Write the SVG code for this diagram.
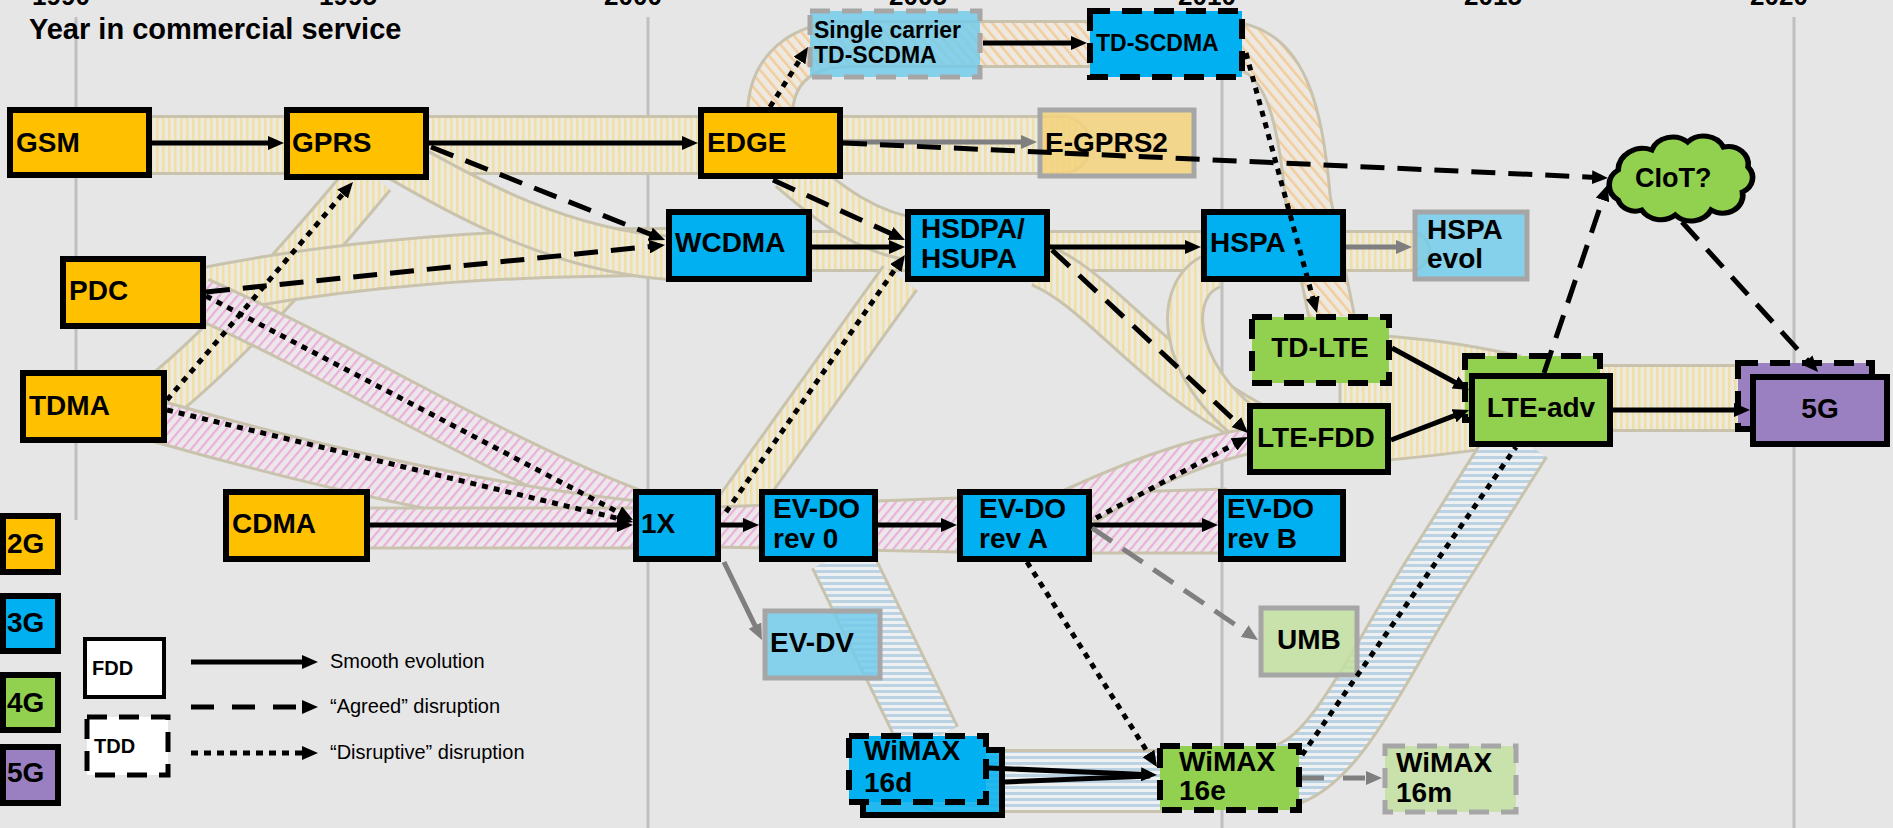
<svg xmlns="http://www.w3.org/2000/svg" width="1893" height="828" viewBox="0 0 1893 828">
<defs>
<style>
.t{font-family:"Liberation Sans",Arial,sans-serif;font-weight:bold;font-size:28px;fill:#000}
.ts{font-size:23px}
.yr{font-size:26px}
.lg{font-family:"Liberation Sans",Arial,sans-serif;font-size:20px;fill:#000}
.box{stroke:#000;stroke-width:6}
.dbox{stroke:#000;stroke-width:6;stroke-dasharray:20 12}
.gbox{stroke:#A6A6A6;stroke-width:5;fill-opacity:0.85}
.gdbox{stroke:#A6A6A6;stroke-width:5;stroke-dasharray:20 12;fill-opacity:0.85}
.o2{fill:#FFC000}.b3{fill:#00B0F0}.g4{fill:#92D050}.p5{fill:#9A7FC1}
.lb{fill:#73CBEA}.lo{fill:#F3D27B}.lgn{fill:#C3DF9F}
.bo{fill:none;stroke:#C9C3AD}
.grid{stroke:#BFBFBF;stroke-width:3}
.c{fill:none;stroke:#000;stroke-width:5}
.dash{stroke-dasharray:24 13}
.dot{stroke-dasharray:6 6}
.gr{stroke:#7F7F7F}
</style>
<pattern id="pY" width="6" height="6" patternUnits="userSpaceOnUse"><rect width="6" height="6" fill="#ECE9DF"/><rect width="2.5" height="6" fill="#F1DFA8"/></pattern>
<pattern id="pP" width="7" height="7" patternUnits="userSpaceOnUse" patternTransform="rotate(40)"><rect width="7" height="7" fill="#ECE8EA"/><rect width="2.2" height="7" fill="#EAB0DB"/></pattern>
<pattern id="pB" width="6" height="6" patternUnits="userSpaceOnUse"><rect width="6" height="6" fill="#EEF0F1"/><rect width="6" height="3" fill="#BAD2E2"/></pattern>
<pattern id="pO" width="8" height="8" patternUnits="userSpaceOnUse" patternTransform="rotate(-40)"><rect width="8" height="8" fill="#EEE9E0"/><rect width="2.5" height="8" fill="#F3CC9C"/></pattern>
<marker id="ah" viewBox="0 0 16 14" refX="4" refY="7" markerWidth="16" markerHeight="14" markerUnits="userSpaceOnUse" orient="auto"><path d="M0,0L16,7L0,14z" fill="#000"/></marker>
<marker id="ahg" viewBox="0 0 16 14" refX="4" refY="7" markerWidth="16" markerHeight="14" markerUnits="userSpaceOnUse" orient="auto"><path d="M0,0L16,7L0,14z" fill="#7F7F7F"/></marker>
<path id="bY1" d="M140 145 L1062 145"/>
<path id="bY2" d="M160 398 C220 350 300 262 372 175"/>
<path id="bY3" d="M200 292 C350 262 500 252 670 252"/>
<path id="bY4" d="M400 160 C470 200 560 250 670 258"/>
<path id="bY5" d="M700 251 L1410 251"/>
<path id="bY6" d="M790 170 C830 205 870 235 920 240"/>
<path id="bY7" d="M733 512 L900 278"/>
<path id="bY8" d="M1040 265 C1100 290 1150 370 1255 425"/>
<path id="bY9" d="M1215 270 C1170 285 1170 370 1255 430"/>
<path id="bY12" d="M1600 398 L1760 398"/>
<path id="bO1" d="M770 112 C772 70 800 44 850 44 L1225 44 C1285 46 1300 110 1308 200 L1332 318"/>
<path id="bP1" d="M360 528 L640 528"/>
<path id="bP4" d="M200 298 C350 365 500 460 640 512"/>
<path id="bP5" d="M160 422 C300 462 480 505 640 522"/>
<path id="bB1" d="M840 555 L930 740"/>
<path id="bB2" d="M940 781 L1165 781"/>
<path id="bB3" d="M1285 775 C1340 760 1385 650 1444 560 L1520 440"/>
</defs>
<rect width="1893" height="828" fill="#E6E6E6"/>
<g id="axis">
<line class="grid" x1="76" y1="17" x2="76" y2="520"/>
<line class="grid" x1="648" y1="17" x2="648" y2="828"/>
<line class="grid" x1="1222" y1="17" x2="1222" y2="828"/>
<line class="grid" x1="1794" y1="17" x2="1794" y2="828"/>
<text class="t yr" x="61" y="5" text-anchor="middle">1990</text>
<text class="t yr" x="348" y="5" text-anchor="middle">1995</text>
<text class="t yr" x="633" y="5" text-anchor="middle">2000</text>
<text class="t yr" x="918" y="5" text-anchor="middle">2005</text>
<text class="t yr" x="1207" y="5" text-anchor="middle">2010</text>
<text class="t yr" x="1493" y="5" text-anchor="middle">2015</text>
<text class="t yr" x="1779" y="5" text-anchor="middle">2020</text>
<text class="t" x="29" y="39" style="font-size:29px">Year in commercial service</text>
</g>
<g id="bands">
<use href="#bY1" class="bo" stroke-width="60" stroke-linecap="round"/><use href="#bY1" fill="none" stroke="url(#pY)" stroke-width="54" stroke-linecap="round"/>
<use href="#bY2" class="bo" stroke-width="50"/><use href="#bY2" fill="none" stroke="url(#pY)" stroke-width="44"/>
<use href="#bY3" class="bo" stroke-width="50"/><use href="#bY3" fill="none" stroke="url(#pY)" stroke-width="44"/>
<use href="#bY4" class="bo" stroke-width="46"/><use href="#bY4" fill="none" stroke="url(#pY)" stroke-width="40"/>
<use href="#bY5" class="bo" stroke-width="42" stroke-linecap="round"/><use href="#bY5" fill="none" stroke="url(#pY)" stroke-width="36" stroke-linecap="round"/>
<use href="#bY6" class="bo" stroke-width="46"/><use href="#bY6" fill="none" stroke="url(#pY)" stroke-width="40"/>
<use href="#bY7" class="bo" stroke-width="44"/><use href="#bY7" fill="none" stroke="url(#pY)" stroke-width="38"/>
<use href="#bY8" class="bo" stroke-width="46"/><use href="#bY8" fill="none" stroke="url(#pY)" stroke-width="40"/>
<use href="#bY9" class="bo" stroke-width="38"/><use href="#bY9" fill="none" stroke="url(#pY)" stroke-width="32"/>
<path d="M1340 333 C1430 338 1470 345 1520 356 L1520 445 C1470 450 1430 458 1340 464 Z" fill="url(#pY)" stroke="#C9C3AD" stroke-width="3"/>
<use href="#bY12" class="bo" stroke-width="68"/><use href="#bY12" fill="none" stroke="url(#pY)" stroke-width="62"/>
<use href="#bO1" class="bo" stroke-width="48"/><use href="#bO1" fill="none" stroke="url(#pO)" stroke-width="42"/>
<use href="#bP4" class="bo" stroke-width="44"/><use href="#bP4" fill="none" stroke="url(#pP)" stroke-width="38"/>
<use href="#bP5" class="bo" stroke-width="44"/><use href="#bP5" fill="none" stroke="url(#pP)" stroke-width="38"/>
<use href="#bP1" class="bo" stroke-width="43"/><use href="#bP1" fill="none" stroke="url(#pP)" stroke-width="37"/>
<path d="M715 507 L958 498 L1092 493 L1225 489 L1225 553 L1092 553 L958 552 L715 547 Z" fill="url(#pP)" stroke="#C9C3AD" stroke-width="3"/>
<path d="M1060 492 C1120 465 1180 440 1255 427 L1255 452 C1180 470 1130 500 1096 522 Z" fill="url(#pP)" stroke="#C9C3AD" stroke-width="3"/>
<use href="#bB1" class="bo" stroke-width="64"/><use href="#bB1" fill="none" stroke="url(#pB)" stroke-width="58"/>
<use href="#bB2" class="bo" stroke-width="64" stroke-linecap="round"/><use href="#bB2" fill="none" stroke="url(#pB)" stroke-width="58" stroke-linecap="round"/>
<use href="#bB3" class="bo" stroke-width="66"/><use href="#bB3" fill="none" stroke="url(#pB)" stroke-width="60"/>
</g>
<g id="n-gsm"><rect class="box o2" x="10" y="110" width="139" height="65"/><text class="t" x="16" y="152">GSM</text></g>
<g id="n-gprs"><rect class="box o2" x="287" y="110" width="139" height="67"/><text class="t" x="292" y="152">GPRS</text></g>
<g id="n-edge"><rect class="box o2" x="701" y="110" width="139" height="66"/><text class="t" x="707" y="152">EDGE</text></g>
<g id="n-egprs2"><rect class="gbox lo" x="1040" y="110" width="154" height="66"/><text class="t" x="1045" y="152">E-GPRS2</text></g>
<g id="n-sctdscdma"><rect class="gdbox lb" x="810" y="11" width="170" height="66"/><text class="t ts" x="814" y="38">Single carrier</text><text class="t ts" x="814" y="63">TD-SCDMA</text></g>
<g id="n-tdscdma"><rect class="dbox b3" x="1090" y="11" width="152" height="66"/><text class="t ts" x="1096" y="51">TD-SCDMA</text></g>
<g id="n-pdc"><rect class="box o2" x="63" y="259" width="140" height="67"/><text class="t" x="69" y="300">PDC</text></g>
<g id="n-tdma"><rect class="box o2" x="23" y="373" width="141" height="67"/><text class="t" x="29" y="415">TDMA</text></g>
<g id="n-cdma"><rect class="box o2" x="226" y="492" width="141" height="67"/><text class="t" x="232" y="533">CDMA</text></g>
<g id="n-wcdma"><rect class="box b3" x="669" y="212" width="140" height="67"/><text class="t" x="675" y="252">WCDMA</text></g>
<g id="n-hsdpa"><rect class="box b3" x="908" y="212" width="139" height="67"/><text class="t" x="921" y="238">HSDPA/</text><text class="t" x="921" y="268">HSUPA</text></g>
<g id="n-hspa"><rect class="box b3" x="1204" y="212" width="139" height="67"/><text class="t" x="1210" y="252">HSPA</text></g>
<g id="n-hspaevol"><rect class="gbox lb" x="1415" y="212" width="112" height="67"/><text class="t" x="1427" y="239">HSPA</text><text class="t" x="1427" y="268">evol</text></g>
<g id="n-1x"><rect class="box b3" x="636" y="492" width="82" height="67"/><text class="t" x="641" y="533">1X</text></g>
<g id="n-evdo0"><rect class="box b3" x="762" y="492" width="113" height="67"/><text class="t" x="773" y="518">EV-DO</text><text class="t" x="773" y="548">rev 0</text></g>
<g id="n-evdoa"><rect class="box b3" x="960" y="492" width="129" height="67"/><text class="t" x="979" y="518">EV-DO</text><text class="t" x="979" y="548">rev A</text></g>
<g id="n-evdob"><rect class="box b3" x="1221" y="492" width="122" height="67"/><text class="t" x="1227" y="518">EV-DO</text><text class="t" x="1227" y="548">rev B</text></g>
<g id="n-evdv"><rect class="gbox lb" x="765" y="611" width="115" height="67"/><text class="t" x="770" y="652">EV-DV</text></g>
<g id="n-umb"><rect class="gbox lgn" x="1261" y="608" width="96" height="67"/><text class="t" x="1277" y="649">UMB</text></g>
<g id="n-wimax16d"><rect class="box b3" x="863" y="750" width="139" height="65" fill-opacity="0.85"/><rect class="dbox b3" x="849" y="736" width="137" height="66"/><text class="t" x="864" y="760">WiMAX</text><text class="t" x="864" y="792">16d</text></g>
<g id="n-wimax16e"><rect class="dbox g4" x="1160" y="746" width="139" height="64"/><text class="t" x="1179" y="771">WiMAX</text><text class="t" x="1179" y="800">16e</text></g>
<g id="n-wimax16m"><rect class="gdbox lgn" x="1385" y="746" width="131" height="66"/><text class="t" x="1396" y="772">WiMAX</text><text class="t" x="1396" y="802">16m</text></g>
<g id="n-tdlte"><rect class="dbox g4" x="1252" y="317" width="137" height="66"/><text class="t" x="1320" y="357" text-anchor="middle">TD-LTE</text></g>
<g id="n-ltefdd"><rect class="box g4" x="1250" y="406" width="138" height="66"/><text class="t" x="1257" y="447">LTE-FDD</text></g>
<g id="n-lteadv"><rect class="dbox g4" x="1465" y="356" width="135" height="64"/><rect class="box g4" x="1472" y="376" width="138" height="68"/><text class="t" x="1541" y="417" text-anchor="middle">LTE-adv</text></g>
<g id="n-5g"><rect class="dbox p5" x="1738" y="363" width="134" height="66"/><rect class="box p5" x="1753" y="377" width="134" height="67"/><text class="t" x="1820" y="418" text-anchor="middle">5G</text></g>
<g id="n-ciot"><path transform="translate(1682 178) scale(1.12 1) translate(-1682 -173)" d="M1625 195 a18 18 0 0 1 0 -30 a22 22 0 0 1 30 -20 a20 20 0 0 1 32 -8 a20 20 0 0 1 32 5 a18 18 0 0 1 22 20 a16 16 0 0 1 -5 25 a18 18 0 0 1 -28 18 a20 20 0 0 1 -32 5 a20 20 0 0 1 -30 -5 a16 16 0 0 1 -21 -10 Z" fill="#92D050" stroke="#000" stroke-width="5"/><text class="t" x="1635" y="187" style="font-size:27px">CIoT?</text></g>
<g id="connectors">
<line class="c" x1="152" y1="143" x2="272" y2="143" marker-end="url(#ah)"/>
<line class="c" x1="429" y1="143" x2="686" y2="143" marker-end="url(#ah)"/>
<line class="c" x1="983" y1="43" x2="1075" y2="43" marker-end="url(#ah)"/>
<line class="c" x1="812" y1="247" x2="893" y2="247" marker-end="url(#ah)"/>
<line class="c" x1="1050" y1="247" x2="1189" y2="247" marker-end="url(#ah)"/>
<line class="c" x1="1392" y1="348" x2="1458.5" y2="384.3" marker-end="url(#ah)"/>
<line class="c" x1="1391" y1="440" x2="1457.8" y2="414.3" marker-end="url(#ah)"/>
<line class="c" x1="1613" y1="410" x2="1738" y2="410" marker-end="url(#ah)"/>
<line class="c" x1="370" y1="525" x2="621" y2="525" marker-end="url(#ah)"/>
<line class="c" x1="721" y1="525" x2="747" y2="525" marker-end="url(#ah)"/>
<line class="c" x1="878" y1="525" x2="945" y2="525" marker-end="url(#ah)"/>
<line class="c" x1="1092" y1="525" x2="1206" y2="525" marker-end="url(#ah)"/>
<line class="c" x1="989" y1="768" x2="1145" y2="774.5" marker-end="url(#ah)"/>
<line class="c" x1="1005" y1="782" x2="1150" y2="776"/>
<line class="c gr" x1="843" y1="142" x2="1025" y2="142" marker-end="url(#ahg)"/>
<line class="c gr" x1="1346" y1="247" x2="1400" y2="247" marker-end="url(#ahg)"/>
<line class="c gr" x1="724" y1="562" x2="756.7" y2="629.2" marker-end="url(#ahg)"/>
<line class="c gr dash" x1="1092" y1="528" x2="1248" y2="633.3" marker-end="url(#ahg)"/>
<line class="c gr" x1="1302" y1="778" x2="1370" y2="778" stroke-dasharray="22 19" marker-end="url(#ahg)"/>
<line class="c dash" x1="431" y1="147" x2="653.9" y2="235.6" marker-end="url(#ah)"/>
<line class="c dash" x1="206" y1="292" x2="653.1" y2="246.2" marker-end="url(#ah)"/>
<line class="c dash" x1="773" y1="180" x2="894.1" y2="235" marker-end="url(#ah)"/>
<line class="c dash" x1="1052" y1="250" x2="1239.2" y2="424.8" marker-end="url(#ah)"/>
<line class="c dash" x1="843" y1="143" x2="1596" y2="177.4" marker-end="url(#ah)"/>
<line class="c dash" x1="1544" y1="373" x2="1603.8" y2="196.2" marker-end="url(#ah)"/>
<line class="c dash" x1="1682" y1="222" x2="1810" y2="363.1" marker-end="url(#ah)"/>
<line class="c dot" x1="167" y1="400" x2="345.2" y2="191.1" marker-end="url(#ah)"/>
<line class="c dot" x1="167" y1="410" x2="621.3" y2="519.2" marker-end="url(#ah)"/>
<line class="c dot" x1="206" y1="296" x2="622.4" y2="514.4" marker-end="url(#ah)"/>
<line class="c dot" x1="726" y1="512" x2="898.1" y2="264.9" marker-end="url(#ah)"/>
<line class="c dot" x1="770" y1="107" x2="801.6" y2="57.1" marker-end="url(#ah)"/>
<line class="c dot" x1="1246" y1="53" x2="1313.8" y2="301.4" marker-end="url(#ah)"/>
<line class="c dot" x1="1096" y1="518" x2="1237.4" y2="442.6" marker-end="url(#ah)"/>
<line class="c dot" x1="1027" y1="562" x2="1150.6" y2="756.9" marker-end="url(#ah)"/>
<line class="c dot" x1="1302" y1="755" x2="1516" y2="447"/>
</g>
<g id="legend">
<rect class="box o2" x="3" y="516" width="55" height="56" stroke-width="5"/><text class="t" x="7" y="553">2G</text>
<rect class="box b3" x="3" y="596" width="55" height="55" stroke-width="5"/><text class="t" x="7" y="632">3G</text>
<rect class="box g4" x="3" y="675" width="55" height="55" stroke-width="5"/><text class="t" x="7" y="712">4G</text>
<rect class="box p5" x="3" y="747" width="55" height="56" stroke-width="5"/><text class="t" x="7" y="782">5G</text>
<rect x="85" y="639" width="79" height="58" fill="#fff" stroke="#000" stroke-width="4"/><text class="t" x="92" y="675" style="font-size:20px">FDD</text>
<rect x="87" y="717" width="81" height="58" fill="#fff" stroke="#000" stroke-width="5" stroke-dasharray="20 12"/><text class="t" x="94" y="753" style="font-size:20px">TDD</text>
<line class="c" x1="191" y1="662" x2="306" y2="662" marker-end="url(#ah)"/>
<line class="c" x1="191" y1="707" x2="306" y2="707" stroke-dasharray="23 18" marker-end="url(#ah)"/>
<line class="c" x1="191" y1="753" x2="306" y2="753" stroke-dasharray="7 6" marker-end="url(#ah)"/>
<text class="lg" x="330" y="668">Smooth evolution</text>
<text class="lg" x="330" y="713">“Agreed” disruption</text>
<text class="lg" x="330" y="759">“Disruptive” disruption</text>
</g>
</svg>
